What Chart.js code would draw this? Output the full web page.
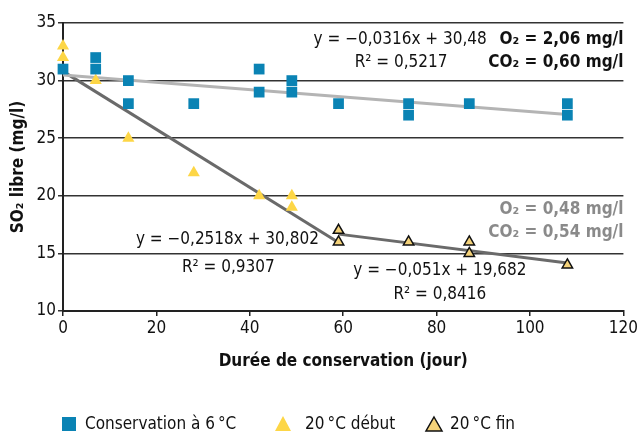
<!DOCTYPE html>
<html><head><meta charset="utf-8">
<script src="https://cdn.jsdelivr.net/npm/chart.js@4"></script>
<style>html,body{margin:0;padding:0;background:#fff}#wrap{width:640px;height:434px}</style>
</head><body><div id="wrap"><canvas id="c" width="640" height="434"></canvas></div>
<script>
// ---- data ----
const days6 = [0, 7, 7, 14, 14, 28, 42, 42, 49, 49, 59, 74, 74, 87, 108, 108];
const so2_6 = [31, 32, 31, 30, 28, 28, 31, 29, 30, 29, 28, 28, 27, 28, 28, 27];
const daysDebut = [0, 0, 7, 14, 28, 42, 49, 49];
const so2Debut = [33, 32, 30, 25, 22, 20, 20, 19];
const daysFin = [59, 59, 74, 87, 87, 108];
const so2Fin = [17, 16, 16, 16, 15, 14];
// regression lines: [slope, intercept, xStart, xEnd]
const fit6 = [-0.0316, 30.48, 0, 108];
const fitDebut = [-0.2518, 30.802, 0, 59];
const fitFin = [-0.051, 19.682, 59, 108];
const xTicks = [0, 20, 40, 60, 80, 100, 120];
const yTicks = [10, 15, 20, 25, 30, 35];
const legendLabels = ['Conservation à 6\u202F°C', '20\u202F°C début', '20\u202F°C fin'];

const FONT = "'Liberation Sans Narrow','Arial Narrow','DejaVu Sans Condensed',sans-serif";
const BLUE = '#0a83b4', YEL = '#fdd646', YEL2 = '#f4d27a';

const pts = (xs, ys) => xs.map((x, i) => ({x, y: ys[i]}));
const fitPts = f => [{x: f[2], y: f[0] * f[2] + f[1]}, {x: f[3], y: f[0] * f[3] + f[1]}];

// annotations (position in data units)
const notes = [
  {t: 'y = \u22120,0316x + 30,48', x: 72.2, y: 33.55, a: 'center', c: '#111', b: false},
  {t: 'R² = 0,5217', x: 72.4, y: 31.55, a: 'center', c: '#111', b: false},
  {t: 'O₂ = 2,06 mg/l', x: 120, y: 33.55, a: 'right', c: '#111', b: true},
  {t: 'CO₂ = 0,60 mg/l', x: 120, y: 31.55, a: 'right', c: '#111', b: true},
  {t: 'O₂ = 0,48 mg/l', x: 120, y: 18.77, a: 'right', c: '#8a8a8a', b: true},
  {t: 'CO₂ = 0,54 mg/l', x: 120, y: 16.77, a: 'right', c: '#8a8a8a', b: true},
  {t: 'y = \u22120,2518x + 30,802', x: 35.2, y: 16.16, a: 'center', c: '#111', b: false},
  {t: 'R² = 0,9307', x: 35.4, y: 13.8, a: 'center', c: '#111', b: false},
  {t: 'y = \u22120,051x + 19,682', x: 80.7, y: 13.55, a: 'center', c: '#111', b: false},
  {t: 'R² = 0,8416', x: 80.7, y: 11.46, a: 'center', c: '#111', b: false}
];

const annot = {
  id: 'annot',
  afterDraw(chart) {
    const ctx = chart.ctx, xs = chart.scales.x, ys = chart.scales.y;
    ctx.save();
    ctx.textBaseline = 'middle';
    notes.forEach(n => {
      ctx.font = (n.b ? 'bold ' : '') + '17px ' + FONT;
      ctx.fillStyle = n.c;
      ctx.textAlign = n.a;
      ctx.fillText(n.t, xs.getPixelForValue(n.x), ys.getPixelForValue(n.y));
    });
    // legend
    const ly = 424;
    ctx.font = '17px ' + FONT;
    ctx.textAlign = 'left';
    ctx.fillStyle = BLUE;
    ctx.fillRect(62, ly - 7, 14, 14);
    ctx.fillStyle = '#111';
    ctx.fillText(legendLabels[0], 85, ly + 1);
    // yellow triangle
    ctx.fillStyle = YEL;
    ctx.beginPath(); ctx.moveTo(283, ly - 8); ctx.lineTo(291, ly + 7); ctx.lineTo(275, ly + 7); ctx.closePath(); ctx.fill();
    ctx.fillStyle = '#111';
    ctx.fillText(legendLabels[1], 305, ly + 1);
    // outlined triangle
    ctx.fillStyle = YEL2; ctx.strokeStyle = '#111'; ctx.lineWidth = 1.5;
    ctx.beginPath(); ctx.moveTo(434, ly - 7); ctx.lineTo(442, ly + 7); ctx.lineTo(426, ly + 7); ctx.closePath(); ctx.fill(); ctx.stroke();
    ctx.fillStyle = '#111';
    ctx.fillText(legendLabels[2], 450, ly + 1);
    ctx.restore();
  }
};

new Chart(document.getElementById('c'), {
  type: 'scatter',
  data: {
    datasets: [
      {type: 'line', data: fitPts(fit6), borderColor: '#b4b4b4', borderWidth: 3, pointRadius: 0, fill: false, order: 5},
      {type: 'line', data: fitPts(fitDebut), borderColor: '#6a6a6a', borderWidth: 3, pointRadius: 0, fill: false, order: 5},
      {type: 'line', data: fitPts(fitFin), borderColor: '#6a6a6a', borderWidth: 3, pointRadius: 0, fill: false, order: 5},
      {label: legendLabels[1], data: pts(daysDebut, so2Debut), pointStyle: 'triangle', pointRadius: 7, backgroundColor: YEL, borderColor: YEL, borderWidth: 0, order: 2, clip: false},
      {label: legendLabels[0], data: pts(days6, so2_6), pointStyle: 'rect', pointRadius: 7.6, backgroundColor: BLUE, borderColor: BLUE, borderWidth: 0, order: 1, clip: false},
      {label: legendLabels[2], data: pts(daysFin, so2Fin), pointStyle: 'triangle', pointRadius: 6, backgroundColor: YEL2, borderColor: '#111', borderWidth: 1.5, order: 1, clip: false}
    ]
  },
  options: {
    responsive: false,
    animation: false,
    devicePixelRatio: 1,
    layout: {padding: {top: 23, right: 15, left: 0, bottom: 0}},
    plugins: {legend: {display: false}, tooltip: {enabled: false}},
    scales: {
      x: {
        type: 'linear', min: 0, max: 120,
        afterBuildTicks: s => { s.ticks = xTicks.map(v => ({value: v})); },
        afterFit: s => { s.height = 123; },
        border: {display: true, color: '#222', width: 2},
        grid: {drawOnChartArea: false, drawTicks: true, tickLength: 5, color: '#222', lineWidth: 1.5},
        ticks: {color: '#111', font: {family: FONT, size: 17}, padding: 2, maxRotation: 0},
        title: {display: true, text: 'Durée de conservation (jour)', color: '#111', font: {family: FONT, size: 17, weight: 'bold'}, padding: {top: 0, bottom: 62}}
      },
      y: {
        type: 'linear', min: 10, max: 35,
        afterBuildTicks: s => { s.ticks = yTicks.map(v => ({value: v})); },
        afterFit: s => { s.width = 63; },
        border: {display: true, color: '#222', width: 2},
        grid: {drawOnChartArea: true, drawTicks: true, tickLength: 5, color: '#333', lineWidth: 1.5},
        ticks: {color: '#111', font: {family: FONT, size: 17}, padding: 2},
        title: {display: true, text: 'SO₂ libre (mg/l)', color: '#111', font: {family: FONT, size: 17, weight: 'bold'}, padding: {top: 8, bottom: 0}}
      }
    }
  },
  plugins: [annot]
});
</script>
</body></html>
